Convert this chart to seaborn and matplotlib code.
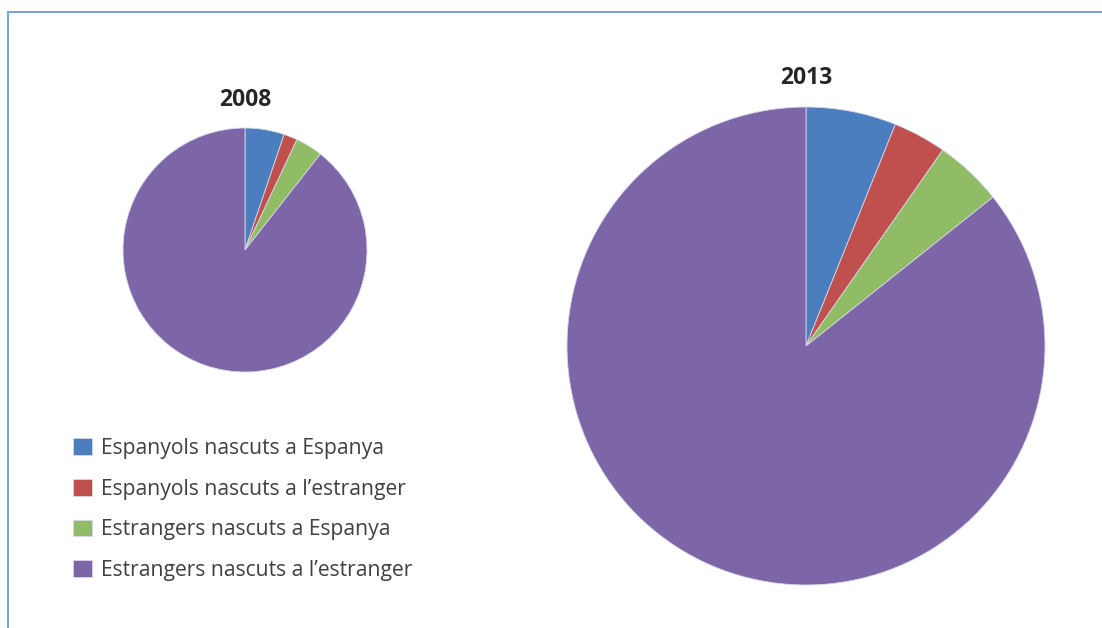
"""Population by nationality and birthplace, 2008 vs 2013 (two scaled pies)."""

import matplotlib
matplotlib.use("Agg")
import matplotlib.pyplot as plt
from matplotlib.lines import Line2D
import seaborn as sns

categories = [
    "Espanyols nascuts a Espanya",
    "Espanyols nascuts a l\u2019estranger",
    "Estrangers nascuts a Espanya",
    "Estrangers nascuts a l\u2019estranger",
]
share_2008 = [5.2, 1.8, 3.6, 89.4]
share_2013 = [6.1, 3.6, 4.6, 85.7]
colors = ["#4A7EBF", "#BF504D", "#8FBC65", "#7D66A8"]

sns.set_theme(style="white")
plt.rcParams["font.family"] = ["Open Sans", "DejaVu Sans"]

W, H = 1102, 628
fig = plt.figure(figsize=(W / 100, H / 100), dpi=100)


def pie_axes(cx, cy, r):
    """Axes whose unit circle maps to a circle of radius r px centred at (cx, cy)."""
    return fig.add_axes([(cx - r) / W, (H - cy - r) / H, 2 * r / W, 2 * r / H])


def draw_pie(ax, values):
    wedges, _ = ax.pie(
        values,
        colors=colors,
        startangle=90,
        counterclock=False,
        radius=1,
        wedgeprops=dict(linewidth=0.6, edgecolor="#d8d8e8"),
    )
    ax.set_xlim(-1, 1)
    ax.set_ylim(-1, 1)
    ax.set_aspect("equal")
    ax.axis("off")
    return wedges


ax08 = pie_axes(245, 250, 122)
wedges = draw_pie(ax08, share_2008)
ax13 = pie_axes(806, 346, 239)
draw_pie(ax13, share_2013)

fig.text(245 / W, 1 - 100 / H, "2008", ha="center", va="center",
         fontsize=16.5, fontweight="bold", color="#262626")
fig.text(806 / W, 1 - 78 / H, "2013", ha="center", va="center",
         fontsize=16.5, fontweight="bold", color="#262626")

fig.legend(
    wedges,
    categories,
    loc="upper left",
    bbox_to_anchor=(54 / W, 1 - 419 / H),
    frameon=False,
    fontsize=15.2,
    labelcolor="#404040",
    handlelength=0.88,
    handleheight=0.85,
    handletextpad=0.45,
    labelspacing=0.93,
)

# chart-area frame (left and top edges only)
frame = "#7AA6CC"
fig.add_artist(Line2D([7.5 / W, 7.5 / W], [0, 1 - 11.5 / H], color=frame, lw=1.5))
fig.add_artist(Line2D([7.5 / W, 1], [1 - 11.5 / H, 1 - 11.5 / H], color=frame, lw=1.5))

fig.savefig("out.png", dpi=100)
